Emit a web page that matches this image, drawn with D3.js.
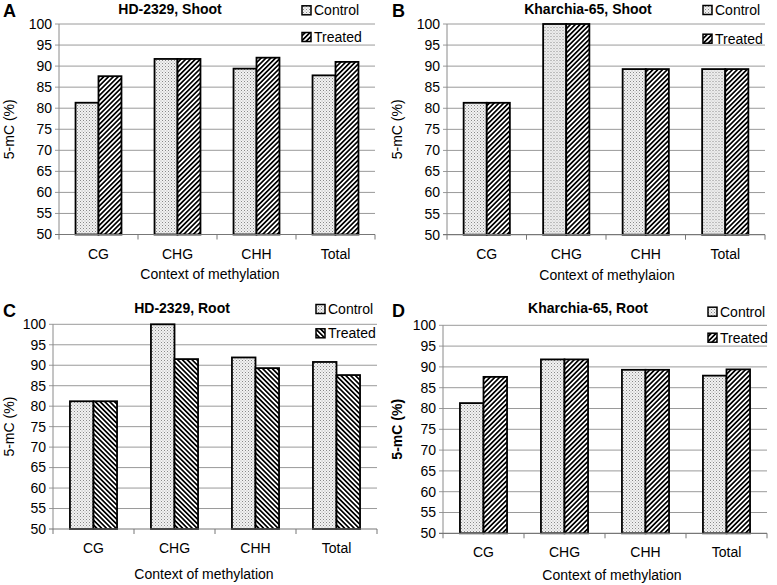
<!DOCTYPE html>
<html>
<head>
<meta charset="utf-8">
<script src="https://cdn.jsdelivr.net/npm/d3@7"></script>
<style>
  body { margin: 0; background: #fff; }
  svg { display: block; }
  text { font-family: "Liberation Sans", Arial, sans-serif; fill: #000; }
</style>
</head>
<body>
<div id="chart"></div>
<script>
// data
const categories = ["CG", "CHG", "CHH", "Total"];
const yTicks = [50, 55, 60, 65, 70, 75, 80, 85, 90, 95, 100];
const seriesNames = ["Control", "Treated"];

const hdShootControl = [81.3, 91.7, 89.4, 87.8];
const hdShootTreated = [87.6, 91.7, 92.0, 91.0];
const khShootControl = [81.3, 100, 89.3, 89.3];
const khShootTreated = [81.3, 100, 89.3, 89.3];
const hdRootControl = [81.2, 100, 91.9, 90.8];
const hdRootTreated = [81.2, 91.5, 89.3, 87.6];
const khRootControl = [81.3, 91.8, 89.3, 87.9];
const khRootTreated = [87.6, 91.8, 89.3, 89.4];

const W = 777, H = 585;
const svg = d3.select("#chart").append("svg").attr("width", W).attr("height", H);

// patterns
const defs = svg.append("defs");
const dots = defs.append("pattern").attr("id", "dots")
  .attr("patternUnits", "userSpaceOnUse").attr("width", 3).attr("height", 3);
dots.append("rect").attr("width", 3).attr("height", 3).attr("fill", "#f2f2f2");
dots.append("rect").attr("x", 0).attr("y", 0).attr("width", 1).attr("height", 1).attr("fill", "#888");
dots.append("rect").attr("x", 1.5).attr("y", 1.5).attr("width", 1).attr("height", 1).attr("fill", "#aaa");

function hatch(id, angle) {
  const p = defs.append("pattern").attr("id", id)
    .attr("patternUnits", "userSpaceOnUse").attr("width", 3.4).attr("height", 3.4)
    .attr("patternTransform", "rotate(" + angle + ")");
  p.append("rect").attr("width", 3.4).attr("height", 3.4).attr("fill", "#fff");
  p.append("line").attr("x1", 0.85).attr("x2", 0.85).attr("y1", 0).attr("y2", 3.4)
    .attr("stroke", "#000").attr("stroke-width", 1.7);
}
hatch("fwd", 45);
hatch("back", -45);

const panels = [
  { letter: "A", title: "HD-2329, Shoot", xTitle: "Context of methylation", yBold: false,
    control: hdShootControl, treated: hdShootTreated, hatch: "fwd",
    left: 59, right: 375, top: 24, bottom: 234.5, titleX: 170, titleY: 14, letterX: 3, letterY: 17,
    legX: 302, legY: [10.3, 37], tickY: 259, xTitleX: 210, xTitleY: 279, yTitleX: 9 },
  { letter: "B", title: "Kharchia-65, Shoot", xTitle: "Context of methylaion", yBold: false,
    control: khShootControl, treated: khShootTreated, hatch: "fwd",
    left: 447, right: 765, top: 24, bottom: 234.7, titleX: 588, titleY: 14, letterX: 392, letterY: 17,
    legX: 703, legY: [10, 38.7], tickY: 259, xTitleX: 607, xTitleY: 280, yTitleX: 397 },
  { letter: "C", title: "HD-2329, Root", xTitle: "Context of methylation", yBold: false,
    control: hdRootControl, treated: hdRootTreated, hatch: "back",
    left: 53, right: 377, top: 324.3, bottom: 529, titleX: 182, titleY: 313, letterX: 3, letterY: 317,
    legX: 316, legY: [309, 333.3], tickY: 553, xTitleX: 204, xTitleY: 579, yTitleX: 9 },
  { letter: "D", title: "Kharchia-65, Root", xTitle: "Context of methylation", yBold: true,
    control: khRootControl, treated: khRootTreated, hatch: "fwd",
    left: 443, right: 767, top: 325.3, bottom: 533.3, titleX: 588, titleY: 313, letterX: 392, letterY: 317,
    legX: 708, legY: [311.7, 337.7], tickY: 557, xTitleX: 612, xTitleY: 580, yTitleX: 397 }
];

panels.forEach(p => {
  const g = svg.append("g");
  const x = d3.scaleBand().domain(categories).range([p.left, p.right]);
  const x1 = d3.scaleBand().domain(seriesNames).range([0, x.bandwidth()]).paddingOuter(0.72);
  const y = d3.scaleLinear().domain([50, 100]).range([p.bottom, p.top]);

  // gridlines
  g.selectAll(".grid").data(yTicks.filter(t => t > 50)).enter().append("line")
    .attr("x1", p.left - 4).attr("x2", p.right)
    .attr("y1", d => y(d)).attr("y2", d => y(d))
    .attr("stroke", "#9a9a9a").attr("stroke-width", 1);

  // left axis
  g.append("line").attr("x1", p.left).attr("x2", p.left).attr("y1", p.top).attr("y2", p.bottom)
    .attr("stroke", "#8a8a8a");
  g.selectAll(".ylab").data(yTicks).enter().append("text")
    .attr("x", p.left - 7).attr("y", d => y(d)).attr("dy", "0.35em")
    .attr("text-anchor", "end").style("font-size", "14px").text(d => d);

  // bars
  const rows = categories.map((c, i) => ({ c: c, vals: [p.control[i], p.treated[i]] }));
  const grp = g.selectAll(".grp").data(rows).enter().append("g")
    .attr("transform", d => "translate(" + x(d.c) + ",0)");
  grp.selectAll("rect").data(d => d.vals.map((v, j) => ({ s: seriesNames[j], v: v }))).enter()
    .append("rect")
    .attr("x", d => x1(d.s)).attr("width", x1.bandwidth())
    .attr("y", d => y(d.v)).attr("height", d => y(50) - y(d.v))
    .attr("fill", d => d.s === "Control" ? "url(#dots)" : "url(#" + p.hatch + ")")
    .attr("stroke", "#000").attr("stroke-width", 1.8);

  // bottom axis
  g.append("line").attr("x1", p.left - 4).attr("x2", p.right).attr("y1", p.bottom).attr("y2", p.bottom)
    .attr("stroke", "#777").attr("stroke-width", 1.2);
  const edges = categories.map(c => x(c)).concat([p.right]);
  g.selectAll(".xt").data(edges).enter().append("line")
    .attr("x1", d => d).attr("x2", d => d).attr("y1", p.bottom).attr("y2", p.bottom + 5)
    .attr("stroke", "#777");
  g.selectAll(".xlab").data(categories).enter().append("text")
    .attr("x", d => x(d) + x.bandwidth() / 2).attr("y", p.tickY)
    .attr("text-anchor", "middle").style("font-size", "14px").text(d => d);

  // titles
  g.append("text").attr("x", p.xTitleX).attr("y", p.xTitleY)
    .attr("text-anchor", "middle").style("font-size", "14px").text(p.xTitle);
  g.append("text")
    .attr("transform", "translate(" + p.yTitleX + "," + (p.top + p.bottom) / 2 + ") rotate(-90)")
    .attr("dy", "0.35em").attr("text-anchor", "middle")
    .style("font-size", "14px").style("font-weight", p.yBold ? "bold" : "normal").text("5-mC (%)");
  g.append("text").attr("x", p.titleX).attr("y", p.titleY)
    .attr("text-anchor", "middle").style("font-size", "14px").style("font-weight", "bold").text(p.title);
  g.append("text").attr("x", p.letterX).attr("y", p.letterY)
    .style("font-size", "18px").style("font-weight", "bold").text(p.letter);

  // legend
  seriesNames.forEach((s, j) => {
    const ly = p.legY[j];
    g.append("rect").attr("x", p.legX).attr("y", ly - 4.5).attr("width", 9).attr("height", 9)
      .attr("fill", s === "Control" ? "url(#dots)" : "url(#" + p.hatch + ")")
      .attr("stroke", "#000").attr("stroke-width", 1.5);
    g.append("text").attr("x", p.legX + 12).attr("y", ly).attr("dy", "0.36em")
      .style("font-size", "14px").text(s);
  });
});
</script>
</body>
</html>
